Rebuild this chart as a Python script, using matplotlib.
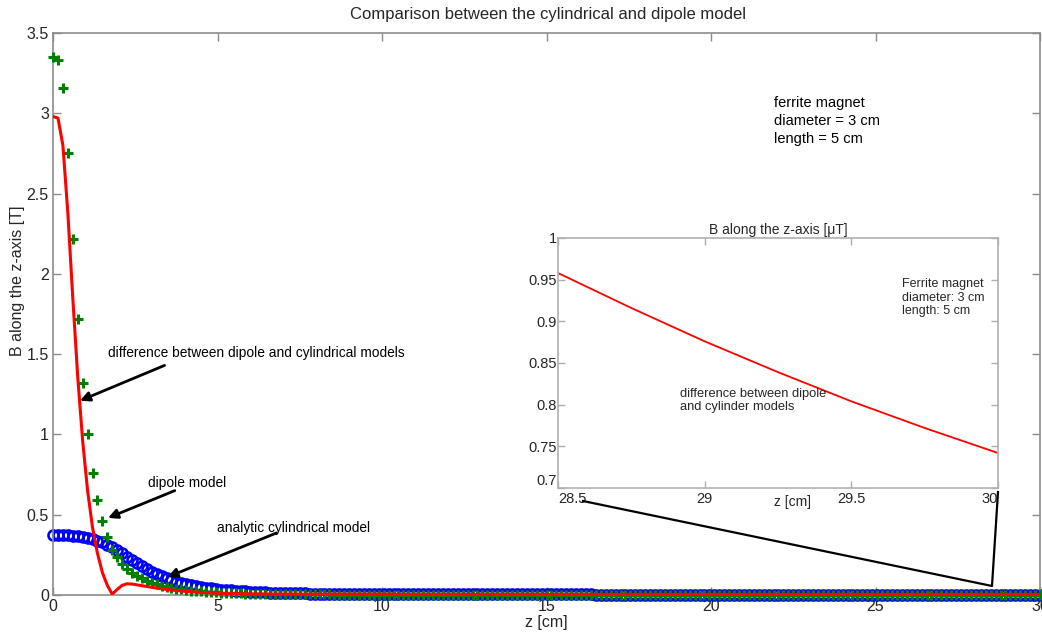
import numpy as np
import matplotlib
matplotlib.use('Agg')
import matplotlib.pyplot as plt
from matplotlib.lines import Line2D
from matplotlib.ticker import FormatStrFormatter

plt.rcParams['font.family'] = ['Liberation Sans', 'DejaVu Sans']

## sample points along the axis [cm]
z = np.arange(0, 30.001, 0.15)

## dipole model [T]
b_dipole = [
    3.35, 3.33, 3.16, 2.75, 2.22, 1.72, 1.32, 1.00, 0.76, 0.59,
    0.46, 0.36, 0.28, 0.235, 0.195, 0.165, 0.14, 0.12, 0.103, 0.089,
    0.077, 0.067, 0.058, 0.051, 0.045, 0.039, 0.035, 0.031, 0.027, 0.024,
    0.022, 0.020, 0.018, 0.016, 0.014, 0.013, 0.012, 0.011, 0.010, 0.009,
    0.009, 0.008, 0.008, 0.007, 0.007, 0.006, 0.006, 0.006, 0.005, 0.005,
    0.005, 0.005, 0.004, 0.004, 0.004, 0.004, 0.004, 0.003, 0.003, 0.003,
    0.003, 0.003, 0.003, 0.003, 0.003, 0.003, 0.003, 0.003, 0.003, 0.003,
    0.002, 0.002, 0.002, 0.002, 0.002, 0.002, 0.002, 0.002, 0.002, 0.002,
    0.002, 0.002, 0.002, 0.002, 0.002, 0.002, 0.002, 0.002, 0.002, 0.002,
    0.002, 0.002, 0.002, 0.002, 0.002, 0.002, 0.002, 0.002, 0.002, 0.002,
    0.002, 0.002, 0.002, 0.002, 0.002, 0.002, 0.002, 0.002, 0.002, 0.002,
    0.001, 0.001, 0.001, 0.001, 0.001, 0.001, 0.001, 0.001, 0.001, 0.001,
    0.001, 0.001, 0.001, 0.001, 0.001, 0.001, 0.001, 0.001, 0.001, 0.001,
    0.001, 0.001, 0.001, 0.001, 0.001, 0.001, 0.001, 0.001, 0.001, 0.001,
    0.001, 0.001, 0.001, 0.001, 0.001, 0.001, 0.001, 0.001, 0.001, 0.001,
    0.001, 0.001, 0.001, 0.001, 0.001, 0.001, 0.001, 0.001, 0.001, 0.001,
    0.001, 0.001, 0.001, 0.001, 0.001, 0.001, 0.001, 0.001, 0.001, 0.001,
    0.001, 0.001, 0.001, 0.001, 0.001, 0.001, 0.001, 0.001, 0.001, 0.001,
    0.001, 0.001, 0.001, 0.001, 0.001, 0.001, 0.001, 0.001, 0.001, 0.001,
    0.001, 0.001, 0.001, 0.001, 0.001, 0.001, 0.001, 0.001, 0.001, 0.001,
    0.001,
]

## analytic cylindrical model [T]
b_cylinder = [
    0.375, 0.375, 0.374, 0.372, 0.369, 0.365, 0.360, 0.354, 0.347, 0.338,
    0.327, 0.313, 0.297, 0.279, 0.259, 0.238, 0.218, 0.198, 0.179, 0.161,
    0.145, 0.130, 0.116, 0.104, 0.093, 0.083, 0.075, 0.067, 0.061, 0.055,
    0.050, 0.045, 0.041, 0.037, 0.034, 0.031, 0.028, 0.026, 0.024, 0.022,
    0.020, 0.019, 0.017, 0.016, 0.015, 0.014, 0.013, 0.012, 0.011, 0.011,
    0.010, 0.010, 0.009, 0.009, 0.009, 0.008, 0.008, 0.008, 0.008, 0.007,
    0.007, 0.007, 0.007, 0.007, 0.006, 0.006, 0.006, 0.006, 0.006, 0.006,
    0.006, 0.005, 0.005, 0.005, 0.005, 0.005, 0.005, 0.005, 0.005, 0.005,
    0.005, 0.005, 0.005, 0.004, 0.004, 0.004, 0.004, 0.004, 0.004, 0.004,
    0.004, 0.004, 0.004, 0.004, 0.004, 0.004, 0.004, 0.004, 0.004, 0.004,
    0.004, 0.004, 0.004, 0.004, 0.004, 0.004, 0.004, 0.004, 0.004, 0.004,
    0.003, 0.003, 0.003, 0.003, 0.003, 0.003, 0.003, 0.003, 0.003, 0.003,
    0.003, 0.003, 0.003, 0.003, 0.003, 0.003, 0.003, 0.003, 0.003, 0.003,
    0.003, 0.003, 0.003, 0.003, 0.003, 0.003, 0.003, 0.003, 0.003, 0.003,
    0.003, 0.003, 0.003, 0.003, 0.003, 0.003, 0.003, 0.003, 0.003, 0.003,
    0.003, 0.003, 0.003, 0.003, 0.003, 0.003, 0.003, 0.003, 0.003, 0.003,
    0.003, 0.003, 0.003, 0.003, 0.003, 0.003, 0.003, 0.003, 0.003, 0.003,
    0.003, 0.003, 0.003, 0.003, 0.003, 0.003, 0.003, 0.003, 0.003, 0.003,
    0.003, 0.003, 0.003, 0.003, 0.003, 0.003, 0.003, 0.003, 0.003, 0.003,
    0.003, 0.003, 0.003, 0.003, 0.003, 0.003, 0.003, 0.003, 0.003, 0.003,
    0.003,
]

## difference between the two models [T]
b_diff = [
    2.98, 2.97, 2.80, 2.38, 1.85, 1.36, 0.96, 0.65, 0.42, 0.26,
    0.14, 0.06, 0.005, 0.035, 0.06, 0.07, 0.068, 0.063, 0.058, 0.053,
    0.048, 0.043, 0.039, 0.035, 0.031, 0.028, 0.025, 0.022, 0.020, 0.018,
    0.016, 0.015, 0.013, 0.012, 0.011, 0.010, 0.009, 0.009, 0.008, 0.008,
    0.007, 0.007, 0.007, 0.007, 0.006, 0.006, 0.006, 0.006, 0.006, 0.006,
    0.005, 0.005, 0.005, 0.005, 0.005, 0.005, 0.005, 0.005, 0.005, 0.005,
    0.005, 0.005, 0.005, 0.005, 0.005, 0.005, 0.005, 0.005, 0.005, 0.005,
    0.004, 0.004, 0.004, 0.004, 0.004, 0.004, 0.004, 0.004, 0.004, 0.004,
    0.004, 0.004, 0.004, 0.004, 0.004, 0.004, 0.004, 0.004, 0.004, 0.004,
    0.004, 0.004, 0.004, 0.004, 0.004, 0.004, 0.004, 0.004, 0.004, 0.004,
    0.004, 0.004, 0.004, 0.004, 0.004, 0.004, 0.004, 0.004, 0.004, 0.004,
    0.004, 0.004, 0.004, 0.004, 0.004, 0.004, 0.004, 0.004, 0.004, 0.004,
    0.004, 0.004, 0.004, 0.004, 0.004, 0.004, 0.004, 0.004, 0.004, 0.004,
    0.004, 0.004, 0.004, 0.004, 0.004, 0.004, 0.004, 0.004, 0.004, 0.004,
    0.004, 0.004, 0.004, 0.004, 0.004, 0.004, 0.004, 0.004, 0.004, 0.004,
    0.004, 0.004, 0.004, 0.004, 0.004, 0.004, 0.004, 0.004, 0.004, 0.004,
    0.004, 0.004, 0.004, 0.004, 0.004, 0.004, 0.004, 0.004, 0.004, 0.004,
    0.004, 0.004, 0.004, 0.004, 0.004, 0.004, 0.004, 0.004, 0.004, 0.004,
    0.004, 0.004, 0.004, 0.004, 0.004, 0.004, 0.004, 0.004, 0.004, 0.004,
    0.004, 0.004, 0.004, 0.004, 0.004, 0.004, 0.004, 0.004, 0.004, 0.004,
    0.004,
]

## zoomed difference far from the magnet [uT]
z_far = [28.5, 28.75, 29.0, 29.25, 29.5, 29.75, 30.0]
b_diff_far = [0.958, 0.916, 0.876, 0.839, 0.804, 0.772, 0.742]

spine_col = '#8c8c8c'
text_col = '#262626'

fig = plt.figure(figsize=(10.42, 6.35), dpi=100)
ax = fig.add_axes([0.0509, 0.063, 0.9472, 0.885])

ax.plot(z, b_cylinder, 'o', mfc='none', mec='blue', ms=7.2, mew=1.9, clip_on=False, zorder=2)
ax.plot(z, b_dipole, '+', color='green', ms=7, mew=2.2, clip_on=False, zorder=3)
ax.plot(z, b_diff, '-', color='red', lw=2.2, zorder=4)

ax.set_xlim(0, 30)
ax.set_ylim(0, 3.5)
ax.set_xticks(range(0, 31, 5))
ax.set_yticks(np.arange(0, 3.51, 0.5))
ax.yaxis.set_major_formatter(FormatStrFormatter('%g'))
ax.tick_params(direction='in', length=6, width=1, color=spine_col,
               labelcolor=text_col, labelsize=11.5, top=True, right=True, pad=3)
for s in ax.spines.values():
    s.set_color(spine_col)
    s.set_linewidth(1.2)

fig.text(548/1042, 1-14/635, 'Comparison between the cylindrical and dipole model',
         ha='center', va='center', fontsize=12, color=text_col)
fig.text(18/1042, 1-281/635, 'B along the z-axis [T]', rotation=90,
         ha='center', va='center', fontsize=11.5, color=text_col)
fig.text(546/1042, 1-623/635, 'z [cm]', ha='center', va='center',
         fontsize=11.5, color=text_col)

ax.text(21.9, 2.95, 'ferrite magnet\ndiameter = 3 cm\nlength = 5 cm', ha='left', va='center',
        fontsize=10.5, color='black', linespacing=1.35)

# arrows pointing at each curve
arrow = dict(arrowstyle='-|>', color='black', lw=2, mutation_scale=14, shrinkA=0, shrinkB=0)
ax.text(1.67, 1.51, 'difference between dipole and cylindrical models', fontsize=9.9,
        ha='left', va='center', color='black')
ax.annotate('', xy=(0.82, 1.21), xytext=(3.39, 1.43), arrowprops=arrow)
ax.text(2.88, 0.70, 'dipole model', fontsize=9.9, ha='left', va='center', color='black')
ax.annotate('', xy=(1.67, 0.48), xytext=(3.7, 0.65), arrowprops=arrow)
ax.text(4.97, 0.42, 'analytic cylindrical model', fontsize=9.9, ha='left', va='center', color='black')
ax.annotate('', xy=(3.48, 0.112), xytext=(6.79, 0.386), arrowprops=arrow)

# inset with the far field
ins = fig.add_axes([0.5355, 0.2315, 0.4223, 0.3937])
ins.set_facecolor('white')
ins.plot(z_far, b_diff_far, '-', color='red', lw=1.3)
ins.set_xlim(28.5, 30)
ins.set_ylim(0.7, 1.0)
ins.set_xticks([28.5, 29, 29.5, 30])
ins.set_yticks(np.arange(0.7, 1.001, 0.05))
ins.xaxis.set_major_formatter(FormatStrFormatter('%g'))
ins.yaxis.set_major_formatter(FormatStrFormatter('%g'))
ins.tick_params(direction='in', length=5, width=1, color='#b0b0b0',
                labelcolor=text_col, labelsize=10.5, top=True, right=True, pad=1)
ins.tick_params(axis='x', pad=3)
for s in ins.spines.values():
    s.set_color('#b0b0b0')
    s.set_linewidth(1.2)
xl = ins.get_xticklabels()
xl[0].set_ha('left')
xl[-1].set_ha('right')
ins.get_yticklabels()[0].set_va('bottom')
ins.set_title('B along the z-axis [\u03bcT]', fontsize=10, color=text_col, pad=3)
ins.text(0.534, -0.056, 'z [cm]', transform=ins.transAxes, ha='center', va='center',
         fontsize=10, color=text_col)
ins.text(0.782, 0.84, 'Ferrite magnet\ndiameter: 3 cm\nlength: 5 cm', transform=ins.transAxes,
         ha='left', va='top', fontsize=9, color=text_col, linespacing=1.17)
ins.text(0.277, 0.40, 'difference between dipole\nand cylinder models', transform=ins.transAxes,
         ha='left', va='top', fontsize=9.3, color=text_col, linespacing=1.15)

# zoom callout lines
fig.add_artist(Line2D([583/1042, 992/1042, 998/1042], [1-501/635, 1-586/635, 1-492/635],
                      transform=fig.transFigure, color='black', lw=1.6))

fig.savefig('out.png', dpi=100)
